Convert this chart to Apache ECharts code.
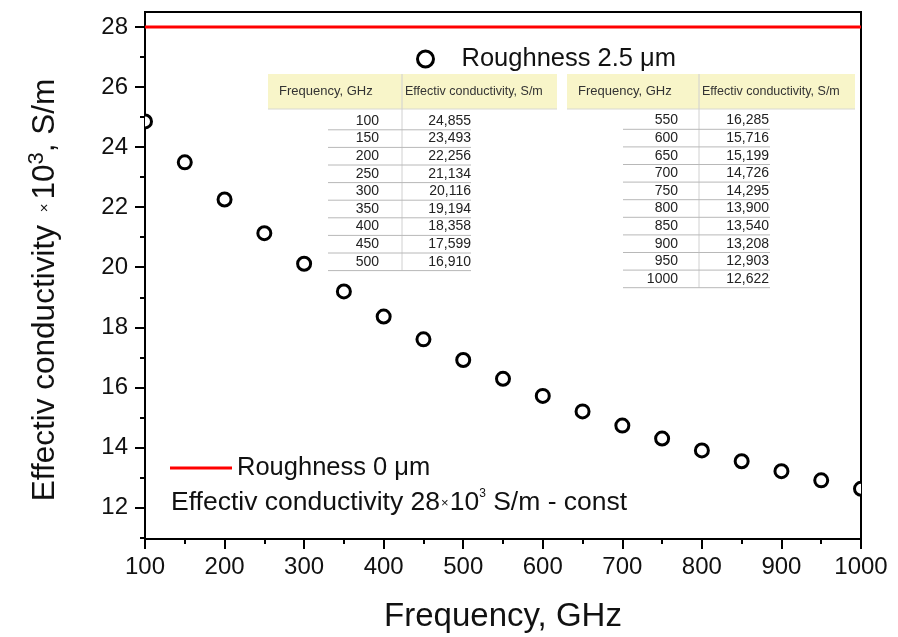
<!DOCTYPE html>
<html><head><meta charset="utf-8">
<script src="https://cdn.jsdelivr.net/npm/echarts@6/dist/echarts.min.js"></script>
<style>html,body{margin:0;padding:0;background:#fff}#c{width:898px;height:637px}</style>
</head><body><div id="c"></div>
<script>
// ---- data ----
const freq = [100,150,200,250,300,350,400,450,500,550,600,650,700,750,800,850,900,950,1000];
const conductivity = [24.855,23.493,22.256,21.134,20.116,19.194,18.358,17.599,16.910,16.285,15.716,15.199,14.726,14.295,13.900,13.540,13.208,12.903,12.622];
const smoothConductivity = 28;
const xRange = [100, 1000];
const yTicks = [12,14,16,18,20,22,24,26,28];
const yMinorTicks = [11,13,15,17,19,21,23,25,27];
const seriesNames = ['Roughness 2.5 \u03bcm', 'Roughness 0 \u03bcm'];
const tableHeaders = ['Frequency, GHz', 'Effectiv conductivity, S/m'];
const table1Rows = 9;

const FONT = '"Liberation Sans", Arial, sans-serif';

function fmt(v){ return v.toFixed(3).replace('.', ','); }

function buildTable(cfg, freqs, vals){
  const els = [];
  const hTop = 74, hH = 35;
  els.push({type:'rect', silent:true, shape:{x:cfg.x0, y:hTop, width:cfg.x1-cfg.x0, height:hH}, style:{fill:'#f8f5c9'}});
  els.push({type:'line', silent:true, shape:{x1:cfg.x0, y1:hTop+hH, x2:cfg.x1, y2:hTop+hH}, style:{stroke:'#d8d8d0', lineWidth:1}});
  const lastLine = cfg.rowY0 + (freqs.length-1)*cfg.pitch + cfg.pitch/2;
  els.push({type:'line', silent:true, shape:{x1:cfg.divX, y1:hTop, x2:cfg.divX, y2:lastLine}, style:{stroke:'#d0d0d0', lineWidth:1}});
  els.push({type:'text', silent:true, x:cfg.x0+11, y:hTop+hH/2, style:{text:tableHeaders[0], font:'13px '+FONT, fill:'#333', verticalAlign:'middle'}});
  els.push({type:'text', silent:true, x:cfg.divX+3, y:hTop+hH/2, style:{text:tableHeaders[1], font:'12.5px '+FONT, fill:'#333', verticalAlign:'middle'}});
  freqs.forEach((f,i)=>{
    const y = cfg.rowY0 + i*cfg.pitch;
    els.push({type:'text', silent:true, x:cfg.c1, y:y, style:{text:String(f), font:'14px '+FONT, fill:'#222', align:'right', verticalAlign:'middle'}});
    els.push({type:'text', silent:true, x:cfg.c2, y:y, style:{text:fmt(vals[i]), font:'14px '+FONT, fill:'#222', align:'right', verticalAlign:'middle'}});
    els.push({type:'line', silent:true, shape:{x1:cfg.l0, y1:y+cfg.pitch/2, x2:cfg.l1, y2:y+cfg.pitch/2}, style:{stroke:'#b8b8b8', lineWidth:1}});
  });
  return els;
}

const graphics = [].concat(
  buildTable({x0:268, x1:557, divX:402, c1:379, c2:471, l0:328, l1:471, rowY0:121, pitch:17.6},
             freq.slice(0,table1Rows), conductivity.slice(0,table1Rows)),
  buildTable({x0:567, x1:855, divX:699, c1:678, c2:769, l0:623, l1:770, rowY0:120.5, pitch:17.6},
             freq.slice(table1Rows), conductivity.slice(table1Rows)),
  [
    {type:'text', silent:true, x:45, y:290, rotation:Math.PI/2,
      style:{text:'{a|Effectiv conductivity }{x|\u00d7}{a|10}{s|3}{a|, S/m}', align:'center', verticalAlign:'middle',
        rich:{a:{font:'31.5px '+FONT, fill:'#111', lineHeight:38}, x:{font:'15px '+FONT, fill:'#111', padding:[0,4,0,4]}, s:{font:'22px '+FONT, fill:'#111', verticalAlign:'top', lineHeight:22}}}},
    {type:'text', silent:true, x:503, y:617,
      style:{text:'Frequency, GHz', font:'33px '+FONT, fill:'#111', align:'center', verticalAlign:'middle'}},
    {type:'text', silent:true, x:171, y:503,
      style:{text:'{a|Effectiv conductivity 28}{x|\u00d7}{a|10}{s|3}{a| S/m - const}', verticalAlign:'middle',
        rich:{a:{font:'26.5px '+FONT, fill:'#111', lineHeight:30}, x:{font:'13px '+FONT, fill:'#111', padding:[0,1,0,1]}, s:{font:'12px '+FONT, fill:'#111', verticalAlign:'top', lineHeight:12}}}}
  ]
);

const chart = echarts.init(document.getElementById('c'), null, {renderer:'canvas'});
chart.setOption({
  animation:false,
  backgroundColor:'#fff',
  grid:{left:145, right:37, top:12, bottom:98, show:true, borderColor:'#000', borderWidth:2, backgroundColor:'transparent'},
  legend:[
    {data:[{name:seriesNames[0], icon:'circle'}], left:411, top:41, itemWidth:16, itemHeight:16,
      itemStyle:{color:'#fff', borderColor:'#000', borderWidth:3},
      textStyle:{fontFamily:FONT, fontSize:25.5, color:'#111', padding:[0,0,0,23]}},
    {data:[{name:seriesNames[1], icon:'rect'}], left:165, top:450, itemWidth:62, itemHeight:3,
      itemStyle:{color:'#ff0000', borderWidth:0},
      textStyle:{fontFamily:FONT, fontSize:25.5, color:'#111'}}
  ],
  xAxis:[{type:'value', min:xRange[0], max:xRange[1], interval:100,
    axisLine:{show:true, onZero:false, lineStyle:{color:'#000', width:2}},
    axisTick:{show:true, inside:false, length:10, lineStyle:{color:'#000', width:2}},
    minorTick:{show:true, splitNumber:2, length:5, lineStyle:{color:'#000', width:2}},
    axisLabel:{fontFamily:FONT, fontSize:24, color:'#111', margin:16, showMinLabel:true, showMaxLabel:true, formatter:v=>String(v)},
    splitLine:{show:false}}],
  yAxis:[
    {type:'value', min:10.95, max:28.5,
      axisLine:{show:true, onZero:false, lineStyle:{color:'#000', width:2}},
      axisTick:{show:true, inside:false, length:10, customValues:yTicks, lineStyle:{color:'#000', width:2}},
      axisLabel:{fontFamily:FONT, fontSize:24, color:'#111', margin:17, customValues:yTicks, formatter:v=>String(v)},
      splitLine:{show:false}},
    {type:'value', min:10.95, max:28.5, position:'left',
      axisLine:{show:false},
      axisTick:{show:true, inside:false, length:5, customValues:yMinorTicks, lineStyle:{color:'#000', width:2}},
      axisLabel:{show:false},
      splitLine:{show:false}}
  ],
  series:[
    {name:seriesNames[0], type:'custom', clip:true, coordinateSystem:'cartesian2d',
      encode:{x:0, y:1},
      itemStyle:{color:'#000'},
      renderItem:function(params, api){
        const p = api.coord([api.value(0), api.value(1)]);
        return {type:'circle', shape:{cx:p[0], cy:p[1], r:6.5}, style:{fill:'#fff', stroke:'#000', lineWidth:3}};
      },
      data:freq.map((f,i)=>[f, conductivity[i]]), z:3},
    {name:seriesNames[1], type:'line', symbol:'none', clip:true,
      lineStyle:{color:'#ff0000', width:3}, itemStyle:{color:'#ff0000'},
      data:[[xRange[0], smoothConductivity],[xRange[1], smoothConductivity]], z:2}
  ],
  graphic:{elements:graphics}
});
</script>
</body></html>
